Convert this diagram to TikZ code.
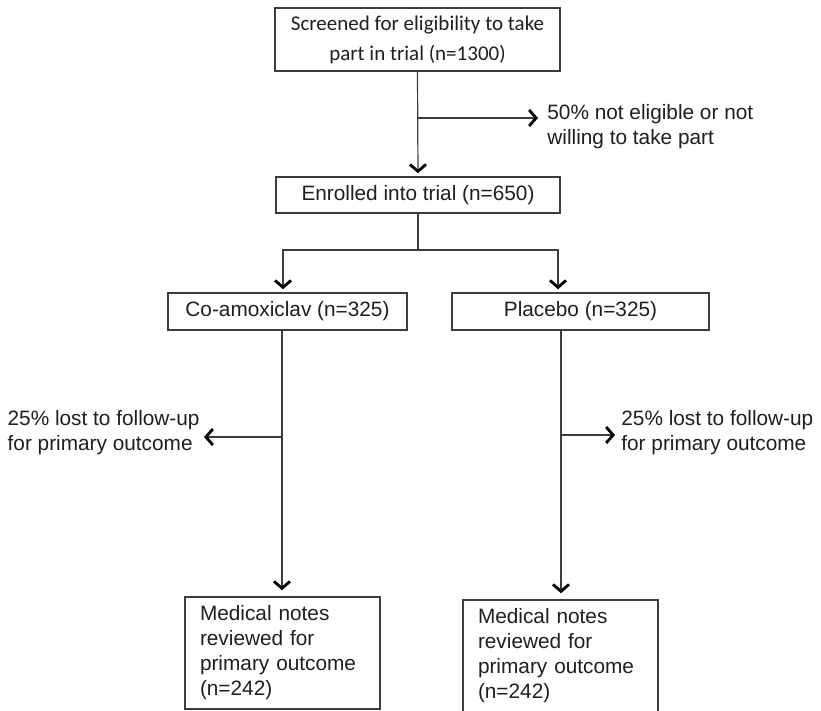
\documentclass[tikz,border=0pt]{standalone}
\usepackage{fontspec}
\setmainfont{Liberation Sans}
\newfontfamily\calibrifont{Carlito}
\definecolor{flowgrey}{RGB}{60,60,60}
\definecolor{flowtext}{RGB}{30,30,35}
\usetikzlibrary{arrows.meta}
\tikzset{
  flowbox/.style={draw=flowgrey, line width=0.75pt, text=flowtext, align=center, inner sep=0pt},
  flownotes/.style={flowbox, align=left, inner xsep=7.5pt, text width=82.5pt, minimum width=97.5pt, minimum height=56pt},
  flowline/.style={draw=flowgrey, line width=0.6pt},
  flowarrow/.style={flowline, shorten >=1.5pt, -{Straight Barb[length=3.5pt,width=8pt,line width=1.4pt,color=black]}},
  flowlabel/.style={text=flowtext, align=left, inner sep=0pt}
}

\begin{document}
\begin{tikzpicture}[x=0.5pt,y=-0.5pt,font=\fontsize{10.4}{12.5}\selectfont]
  \useasboundingbox (0,0) rectangle (821,711);
  \clip (0,0) rectangle (821,711);

  % boxes
  \node [flowbox, minimum width=142.5pt, minimum height=31.5pt, font=\calibrifont\fontsize{10.5}{15}\selectfont] (screen) at (417.5,39.5) {Screened for eligibility to take\\part in trial (n=1300)};
  \node [flowbox, minimum width=142pt, minimum height=18pt] (enrol) at (418,195) {Enrolled into trial (n=650)};
  \node [flowbox, minimum width=119.5pt, minimum height=18.5pt] (coam) at (287.5,311.5) {Co-amoxiclav (n=325)};
  \node [flowbox, minimum width=128.5pt, minimum height=18.5pt] (plac) at (580.5,311.5) {Placebo (n=325)};
  \node [flownotes] (notesA) at (282.5,653) {Medical notes\\reviewed for\\primary outcome\\(n=242)};
  \node [flownotes] (notesB) at (560.5,656) {Medical notes\\reviewed for\\primary outcome\\(n=242)};

  % side labels
  \node [flowlabel, anchor=west] (excl) at (547,127) {50\% not eligible or not\\willing to take part};
  \node [flowlabel, anchor=east] (lostA) at (200,433) {25\% lost to follow-up\\for primary outcome};
  \node [flowlabel, anchor=west] (lostB) at (621,433) {25\% lost to follow-up\\for primary outcome};

  \coordinate (split) at (418,118);
  \coordinate (fork) at (418,250);
  \coordinate (forkA) at (283,250);
  \coordinate (forkB) at (558,250);
  \coordinate (lossA) at (282,437);
  \coordinate (lossB) at (561,435);

  \draw [flowarrow] (screen.south) -- (enrol.north);
  \draw [flowarrow, shorten >=4.5pt] (split) -- (excl.west |- split);

  \draw [flowline] (enrol.south) -- (fork);
  \draw [flowarrow] (fork) -- (forkA) -- (coam.north -| forkA);
  \draw [flowarrow] (fork) -- (forkB) -- (plac.north -| forkB);

  \draw [flowarrow, shorten >=3pt] (coam.south -| lossA) -- (notesA.north -| lossA);
  \draw [flowarrow, shorten >=2pt] (lossA) -- (lostA.east |- lossA);
  \draw [flowarrow, shorten >=3pt] (plac.south -| lossB) -- (notesB.north -| lossB);
  \draw [flowarrow, shorten >=3pt] (lossB) -- (lostB.west |- lossB);

\end{tikzpicture}
\end{document}
